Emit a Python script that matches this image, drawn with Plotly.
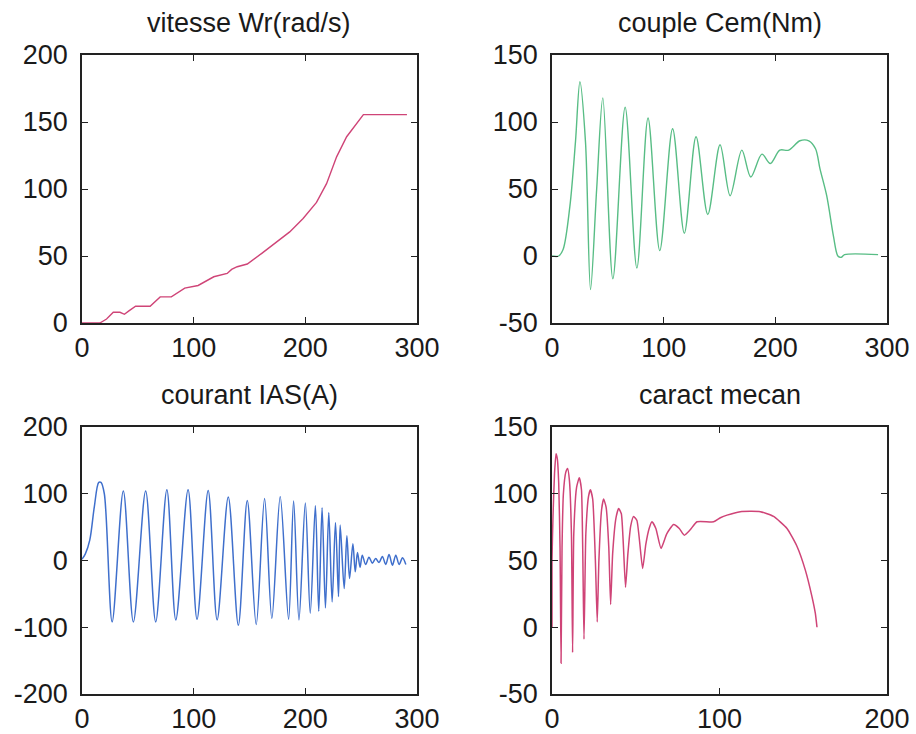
import plotly.graph_objects as go

# ---- vitesse Wr(rad/s) ----
speed_t = [0, 16, 22, 28, 34, 38, 42, 48, 61, 66, 70, 80, 86, 92, 104, 110, 118, 130, 134, 139,
           148, 161, 174, 186, 198, 210, 219, 228, 237, 246, 252, 291]
speed_v = [0, 0, 3, 8, 8, 6.5, 9, 12.5, 12.5, 16, 19.5, 19.5, 23, 26, 28, 31, 34.5, 37, 40, 42,
           44, 52, 60, 68, 78, 90, 104, 124, 139, 149, 155.5, 155.5]

# ---- couple Cem(Nm) ----
torque_t = [0, 6, 10, 16, 21, 25, 30, 34.5, 40, 45.5, 54.5, 65.5, 76, 86, 96.5, 108, 118.5,
            129, 139.5, 150.5, 159.5, 170, 178, 188, 195.5, 204, 212, 222, 230, 236, 240, 246,
            252, 256, 259, 262, 292]
torque_v = [0, 0, 5, 37, 85, 130, 85, -25, 50, 118, -17, 111, -9, 103, 4, 95, 17,
            89, 31, 83, 45, 79, 59, 76, 69, 79, 79, 86, 86, 80, 65, 45,
            15, 0, -1, 1, 1]

# ---- courant IAS(A) ----
current_t = [0, 3, 7, 11, 15, 17, 20, 27, 37, 46, 57, 66, 76, 84, 95, 103, 113, 121, 131, 140,
             148, 156, 163.5, 170, 177.5, 185, 189.5, 194.3, 200, 204.4, 209, 212, 215, 218,
             221, 224, 227, 229.7, 231.2, 234.8, 237.2, 239.6, 242.6, 244.7, 246.7, 249, 251,
             254, 257, 260, 263, 266, 269, 272, 275, 278, 281, 284, 287, 290]
current_v = [2, 10, 31, 80, 117, 117, 100, -92, 104, -92, 104, -92, 106, -89, 106, -88, 105, -89,
             95, -97, 90, -96, 93, -87, 96, -88, 89, -89, 86, -79, 82, -76, 79, -71,
             72, -62, 57, -54, 53, -42, 37, -27, 25, -17, 12, -10, 8,
             -6, 5, -4, 3, -3, 6, -6, 9, -7, 8, -6, 4, -6]

# ---- caract mecan ----
mec_w = [0, 0, 0.6, 1.5, 2.4, 3.2, 4.0, 4.8, 5.4, 6.0, 6.8, 8.2, 9.3, 10.4, 11.6, 12.3, 13.0,
         14.7, 16.3, 17.6, 19.1, 20.2, 21.8, 22.9, 24.3, 25.9, 27.0, 28.0, 29.6, 30.8, 32.3,
         33.9, 35.0, 36.2, 38.2, 39.8, 41.4, 43.9, 45.3, 47.0, 48.7, 50.7, 54.1, 56.0, 58.0,
         59.7, 62.0, 65.1, 68.5, 72.6, 76.0, 79.0, 82.5, 86.6, 96.5, 100.5, 104.5, 112.4, 124.4,
         132.3, 140.3, 146.3, 151.2, 155.2, 157.2, 158.2]
mec_c = [0, 50, 83, 115, 130, 126, 108, 60, -27, 60, 100, 116, 119, 110, 70, -19, 70,
         105, 112, 103, -9, 70, 98, 103, 96, 50, 4, 50, 88, 96, 90,
         60, 17, 55, 82, 89, 85, 30, 55, 76, 83, 80, 44, 62, 74,
         79, 74, 59, 70, 77, 74, 69, 73, 79, 79, 82, 84, 86.6, 86.6,
         83, 74, 60.5, 43, 23, 10.5, 0]

# tick labels (MATLAB style hyphen minus)
ticks_x300 = [0, 100, 200, 300]
ticks_x200 = [0, 100, 200]
ticks_speed = [0, 50, 100, 150, 200]
ticks_torque = [-50, 0, 50, 100, 150]
ticks_current = [-200, -100, 0, 100, 200]

PINK = "#cf4477"
GREEN = "#58bd85"
BLUE = "#3f6fcc"
FONT = "Liberation Sans, Arial, sans-serif"

fig = go.Figure()
fig.add_trace(go.Scatter(x=speed_t, y=speed_v, mode="lines", line=dict(color=PINK, width=1.4),
                         xaxis="x", yaxis="y"))
fig.add_trace(go.Scatter(x=torque_t, y=torque_v, mode="lines",
                         line=dict(color=GREEN, width=1.4, shape="spline", smoothing=0.9),
                         xaxis="x2", yaxis="y2"))
fig.add_trace(go.Scatter(x=current_t, y=current_v, mode="lines",
                         line=dict(color=BLUE, width=1.5, shape="spline", smoothing=0.9),
                         xaxis="x3", yaxis="y3"))
fig.add_trace(go.Scatter(x=mec_w, y=mec_c, mode="lines",
                         line=dict(color=PINK, width=1.5, shape="spline", smoothing=0.5),
                         xaxis="x4", yaxis="y4"))

dx_left = [82 / 916, 417 / 916]
dx_right = [552 / 916, 887 / 916]
dy_top = [1 - 323 / 734, 1 - 55 / 734]
dy_bot = [1 - 694 / 734, 1 - 427 / 734]

def ax(domain, rng, vals, anchor, standoff):
    return dict(domain=domain, range=rng, tickmode="array", tickvals=vals,
                ticktext=[str(v) for v in vals], anchor=anchor, automargin=False,
                showline=True, linecolor="#222", linewidth=1.5, mirror="ticks",
                ticks="inside", ticklen=6, tickwidth=1.2, tickcolor="#222",
                showgrid=False, zeroline=False, ticklabelstandoff=standoff,
                tickfont=dict(family=FONT, size=27, color="#1a1a1a"))

layout = dict(
    width=916, height=734, showlegend=False,
    paper_bgcolor="white", plot_bgcolor="white",
    margin=dict(l=0, r=0, t=0, b=0, autoexpand=False),
    xaxis=ax(dx_left, [0, 300], ticks_x300, "y", 0),
    yaxis=ax(dy_top, [0, 200], ticks_speed, "x", 7),
    xaxis2=ax(dx_right, [0, 300], ticks_x300, "y2", 0),
    yaxis2=ax(dy_top, [-50, 150], ticks_torque, "x2", 7),
    xaxis3=ax(dx_left, [0, 300], ticks_x300, "y3", 0),
    yaxis3=ax(dy_bot, [-200, 200], ticks_current, "x3", 7),
    xaxis4=ax(dx_right, [0, 200], ticks_x200, "y4", 0),
    yaxis4=ax(dy_bot, [-50, 150], ticks_torque, "x4", 7),
)
fig.update_layout(**layout)

titles = [("vitesse Wr(rad/s)", dx_left, 23), ("couple Cem(Nm)", dx_right, 23),
          ("courant IAS(A)", dx_left, 395), ("caract mecan", dx_right, 395)]
for text, dom, ypx in titles:
    fig.add_annotation(text=text, x=(dom[0] + dom[1]) / 2, y=1 - ypx / 734,
                       xref="paper", yref="paper", showarrow=False,
                       xanchor="center", yanchor="middle",
                       font=dict(family=FONT, size=27, color="#1a1a1a"))

fig.write_html("out.html", config={"displayModeBar": False},
               post_script="document.body.style.margin='0px';"
                           "document.body.style.overflow='hidden';")
